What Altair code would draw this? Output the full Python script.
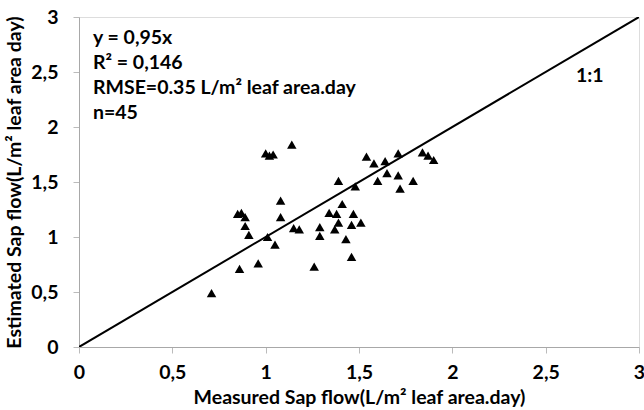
import altair as alt
import pandas as pd

# Measured vs. estimated daily sap flow (L/m² leaf area.day)
measured = [0.71, 0.86, 0.96, 0.85, 0.87, 0.89, 0.89, 0.91, 1.01, 1.05,
            1.08, 1.08, 1.15, 1.00, 1.02, 1.04, 1.14, 1.26, 1.29, 1.29,
            1.34, 1.38, 1.41, 1.39, 1.37, 1.47, 1.46, 1.51, 1.43, 1.46,
            1.39, 1.48, 1.54, 1.58, 1.64, 1.71, 1.60, 1.65, 1.71, 1.72,
            1.79, 1.84, 1.87, 1.90, 1.18]
estimated = [0.49, 0.71, 0.76, 1.21, 1.22, 1.18, 1.10, 1.02, 1.00, 0.93,
             1.33, 1.18, 1.08, 1.76, 1.74, 1.75, 1.84, 0.73, 1.09, 1.01,
             1.22, 1.21, 1.30, 1.13, 1.07, 1.21, 1.11, 1.13, 0.98, 0.82,
             1.51, 1.46, 1.73, 1.67, 1.69, 1.76, 1.51, 1.58, 1.56, 1.44,
             1.51, 1.77, 1.74, 1.70, 1.07]

one_to_one = [0, 3]
ticks = [0, 0.5, 1, 1.5, 2, 2.5, 3]

stats_lines = ["y = 0,95x", "R² = 0,146", "RMSE=0.35 L/m² leaf area.day", "n=45"]

FONT = "Lato"

pts = pd.DataFrame({"m": measured, "e": estimated})
ref = pd.DataFrame({"m": one_to_one, "e": one_to_one})

comma = "replace(toString(datum.value), '.', ',')"

x_scale = alt.Scale(domain=[0, 3], nice=False, zero=True)
y_scale = alt.Scale(domain=[0, 3], nice=False, zero=True)

common = dict(values=ticks, labelExpr=comma, grid=False, ticks=True,
              tickSize=6, tickColor="#bbbbbb", domainColor="#a8a8a8",
              labelFont=FONT, labelFontSize=19.5, labelFontWeight="bold",
              labelColor="black", titleFont=FONT, titleFontSize=19.5,
              titleFontWeight="bold", titleColor="black", labelFlush=False)

x_axis = alt.Axis(title="Measured Sap flow(L/m² leaf area.day)",
                  labelPadding=10, titlePadding=7, **common)
y_axis = alt.Axis(title="Estimated Sap flow(L/m² leaf area day)",
                  labelPadding=15, titlePadding=6, **common)

line = alt.Chart(ref).mark_line(color="black", strokeWidth=2, clip=True).encode(
    x=alt.X("m:Q", scale=x_scale, axis=x_axis),
    y=alt.Y("e:Q", scale=y_scale, axis=y_axis),
)

scatter = alt.Chart(pts).mark_point(
    shape="triangle-up", filled=True, color="black", opacity=1, size=90
).encode(
    x=alt.X("m:Q", scale=x_scale),
    y=alt.Y("e:Q", scale=y_scale),
)

text = alt.Chart(pd.DataFrame({"t": ["\n".join(stats_lines)]})).mark_text(
    align="left", baseline="top", font=FONT, fontSize=19.5,
    fontWeight="bold", color="black", lineBreak="\n", lineHeight=25
).encode(x=alt.value(14), y=alt.value(12), text="t:N")

label_11 = alt.Chart(pd.DataFrame({"t": ["1:1"]})).mark_text(
    align="left", baseline="middle", font=FONT, fontSize=19.5,
    fontWeight="bold", color="black"
).encode(x=alt.value(497), y=alt.value(59), text="t:N")

chart = alt.layer(line, scatter, text, label_11).properties(
    width=560, height=330,
    padding={"left": 79, "top": 17, "right": 5, "bottom": 63},
    autosize=alt.AutoSizeParams(type="none"),
).configure_view(stroke="#a8a8a8", strokeWidth=1).configure(background="white")

chart.save("out.html", embed_options={"renderer": "svg", "actions": False})
